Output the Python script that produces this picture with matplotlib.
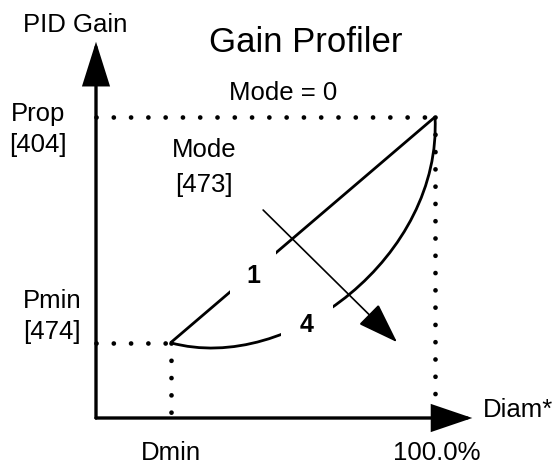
import matplotlib
matplotlib.use("Agg")
import matplotlib.pyplot as plt
from matplotlib.path import Path
from matplotlib.patches import PathPatch

plt.rcParams['font.family'] = ['Liberation Sans', 'DejaVu Sans']

# ---- data (diagram units: x = % diameter, y = % gain) ----
d_min = 22.0
d_max = 100.0
p_min = 25.0
p_prop = 100.0
x_axis_end = 111.0
y_axis_end = 125.0
# mode 1: straight profile, mode 4: curved profile (bezier control points)
mode1_x = [d_min, d_max]
mode1_y = [p_min, p_prop]
mode4_ctrl_x = [d_min, 57.2, 102.1, d_max]
mode4_ctrl_y = [p_min, 14.3, 54.2, p_prop]
mode_arrow_start = (49.3, 69.1)
mode_arrow_end = (88.8, 25.2)

fig = plt.figure(figsize=(5.55, 4.65), dpi=100)
ax = fig.add_axes([0, 0, 1, 1])
ax.set_xlim(-96 / 3.39, (555 - 96) / 3.39)
ax.set_ylim(-(465 - 418) / 3.01, 418 / 3.01)
ax.axis('off')

k = 'black'
axis_lw = 2.4

def arrow(start, end, lw, hl, hw, z=3):
    ax.annotate('', xy=end, xytext=start,
                arrowprops=dict(arrowstyle=f'-|>,head_length={hl},head_width={hw}',
                                lw=lw, color=k, shrinkA=0, shrinkB=0,
                                mutation_scale=1, joinstyle='miter'),
                zorder=z)

# axes
arrow((0, 0), (0, y_axis_end), axis_lw, 27, 8.5)
arrow((0, 0), (x_axis_end, 0), axis_lw, 25, 8.5)

# dotted guide lines
dot = dict(color=k, lw=3.4, linestyle=(0, (0.01, 3.65)), dash_capstyle='round', zorder=2)
ax.plot([0, d_max], [p_prop, p_prop], **dot)
ax.plot([d_max, d_max], [p_prop, 0], **dot)
ax.plot([0, d_min], [p_min, p_min], **dot)
ax.plot([d_min, d_min], [p_min, 0], **dot)

# mode 1 line
ax.plot(mode1_x, mode1_y, color=k, lw=2.0, solid_capstyle='butt', zorder=3)
# mode 4 curve
verts = list(zip(mode4_ctrl_x, mode4_ctrl_y))
path = Path(verts, [Path.MOVETO, Path.CURVE4, Path.CURVE4, Path.CURVE4])
ax.add_patch(PathPatch(path, fill=False, lw=2.0, color=k, zorder=3))

# curve labels (white boxes make gaps)
fs = 18.5
ax.text(46.3, 44.9, '1', fontsize=18, fontweight='bold', ha='center', va='baseline',
        bbox=dict(boxstyle='square,pad=0.65', fc='white', ec='none'), zorder=4)
ax.text(62.2, 28.6, '4', fontsize=18, fontweight='bold', ha='center', va='baseline',
        bbox=dict(boxstyle='square,pad=0.75', fc='white', ec='none'), zorder=4)

# mode arrow
arrow(mode_arrow_start, mode_arrow_end, 1.2, 26, 9, z=5)

# text
ax.text(-6.05, 128.2, 'PID Gain', fontsize=fs, ha='center', va='baseline')
ax.text(61.9, 121.6, 'Gain Profiler', fontsize=25, ha='center', va='baseline')
ax.text(55.2, 105.6, 'Mode = 0', fontsize=fs, ha='center', va='baseline')
ax.text(-17.1, 98.7, 'Prop', fontsize=fs, ha='center', va='baseline')
ax.text(-17.1, 88.4, '[404]', fontsize=fs, ha='center', va='baseline')
ax.text(31.9, 86.7, 'Mode', fontsize=fs, ha='center', va='baseline')
ax.text(31.9, 75.1, '[473]', fontsize=fs, ha='center', va='baseline')
ax.text(-13.0, 36.5, 'Pmin', fontsize=fs, ha='center', va='baseline')
ax.text(-13.0, 26.2, '[474]', fontsize=fs, ha='center', va='baseline')
ax.text(d_min, -13.8, 'Dmin', fontsize=fs, ha='center', va='baseline')
ax.text(d_max + 0.6, -13.8, '100.0%', fontsize=fs, ha='center', va='baseline')
ax.text(114.2, 0.3, 'Diam*', fontsize=fs, ha='left', va='baseline')

fig.savefig('out.png', dpi=100)
